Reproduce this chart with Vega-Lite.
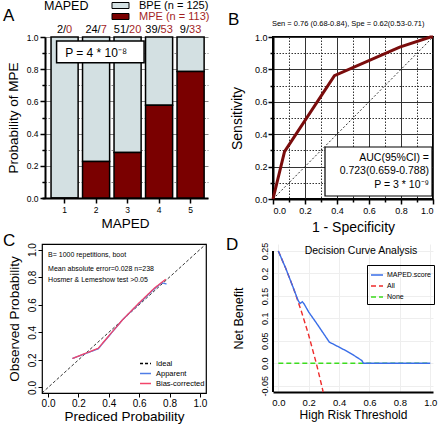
{
  "$schema": "https://vega.github.io/schema/vega-lite/v6.json",
  "padding": {"left": 2, "top": 0, "right": 0, "bottom": 0},
  "bounds": "flush",
  "columns": 2,
  "spacing": {"row": 45, "column": 65},
  "resolve": {
    "scale": {"color": "independent", "strokeDash": "independent"},
    "legend": {"color": "independent", "strokeDash": "independent"}
  },
  "config": {
    "font": "Liberation Sans",
    "view": {"stroke": null},
    "axis": {"labelColor": "black", "titleColor": "black", "domainColor": "black", "tickColor": "black", "titleFontWeight": "normal", "labelFont": "Liberation Sans", "titleFont": "Liberation Sans", "labelOverlap": false, "labelBound": false},
    "legend": {"labelColor": "black", "titleColor": "black", "labelFont": "Liberation Sans", "titleFont": "Liberation Sans"},
    "title": {"fontWeight": "normal", "color": "black", "font": "Liberation Sans"},
    "text": {"font": "Liberation Sans", "color": "black"}
  },
  "datasets": {
    "a_bars": [
      {"score": 1, "group": "BPE (n = 125)", "prob": 1.0},
      {"score": 1, "group": "MPE (n = 113)", "prob": 0.0},
      {"score": 2, "group": "BPE (n = 125)", "prob": 0.774},
      {"score": 2, "group": "MPE (n = 113)", "prob": 0.226},
      {"score": 3, "group": "BPE (n = 125)", "prob": 0.718},
      {"score": 3, "group": "MPE (n = 113)", "prob": 0.282},
      {"score": 4, "group": "BPE (n = 125)", "prob": 0.424},
      {"score": 4, "group": "MPE (n = 113)", "prob": 0.576},
      {"score": 5, "group": "BPE (n = 125)", "prob": 0.214},
      {"score": 5, "group": "MPE (n = 113)", "prob": 0.786}
    ],
    "a_counts": [
      {"score": 1, "nb": "2", "nm": "0"},
      {"score": 2, "nb": "24", "nm": "7"},
      {"score": 3, "nb": "51", "nm": "20"},
      {"score": 4, "nb": "39", "nm": "53"},
      {"score": 5, "nb": "9", "nm": "33"}
    ],
    "roc": [
      {"fpr": 0, "tpr": 0},
      {"fpr": 0.072, "tpr": 0.292},
      {"fpr": 0.384, "tpr": 0.761},
      {"fpr": 0.792, "tpr": 0.938},
      {"fpr": 0.984, "tpr": 1},
      {"fpr": 1, "tpr": 1}
    ],
    "diag": [
      {"fpr": 0, "tpr": 0},
      {"fpr": 1, "tpr": 1}
    ],
    "ideal": [
      {"series": "Ideal", "x": -0.04, "y": -0.04},
      {"series": "Ideal", "x": 1.04, "y": 1.04}
    ],
    "calib": [
      {"series": "Apparent", "x": 0.16, "y": 0.21},
      {"series": "Apparent", "x": 0.33, "y": 0.28},
      {"series": "Apparent", "x": 0.49, "y": 0.49},
      {"series": "Apparent", "x": 0.6, "y": 0.61},
      {"series": "Apparent", "x": 0.7, "y": 0.715},
      {"series": "Apparent", "x": 0.75, "y": 0.76},
      {"series": "Apparent", "x": 0.78, "y": 0.75},
      {"series": "Bias-corrected", "x": 0.16, "y": 0.21},
      {"series": "Bias-corrected", "x": 0.33, "y": 0.284},
      {"series": "Bias-corrected", "x": 0.49, "y": 0.49},
      {"series": "Bias-corrected", "x": 0.6, "y": 0.614},
      {"series": "Bias-corrected", "x": 0.7, "y": 0.72},
      {"series": "Bias-corrected", "x": 0.775, "y": 0.785}
    ],
    "dca": [
      {"series": "None", "t": 0, "nb": 0},
      {"series": "None", "t": 1, "nb": 0},
      {"series": "All", "t": 0, "nb": 0.25},
      {"series": "All", "t": 0.05, "nb": 0.2105},
      {"series": "All", "t": 0.1, "nb": 0.1667},
      {"series": "All", "t": 0.15, "nb": 0.1176},
      {"series": "All", "t": 0.2, "nb": 0.0625},
      {"series": "All", "t": 0.25, "nb": 0},
      {"series": "All", "t": 0.2857, "nb": -0.05},
      {"series": "All", "t": 0.295, "nb": -0.064},
      {"series": "MAPED.score", "t": 0, "nb": 0.25},
      {"series": "MAPED.score", "t": 0.05, "nb": 0.2105},
      {"series": "MAPED.score", "t": 0.1, "nb": 0.1667},
      {"series": "MAPED.score", "t": 0.13, "nb": 0.14},
      {"series": "MAPED.score", "t": 0.143, "nb": 0.133},
      {"series": "MAPED.score", "t": 0.158, "nb": 0.137},
      {"series": "MAPED.score", "t": 0.17, "nb": 0.132},
      {"series": "MAPED.score", "t": 0.2, "nb": 0.114},
      {"series": "MAPED.score", "t": 0.25, "nb": 0.09},
      {"series": "MAPED.score", "t": 0.3, "nb": 0.065},
      {"series": "MAPED.score", "t": 0.336, "nb": 0.047},
      {"series": "MAPED.score", "t": 0.4, "nb": 0.036},
      {"series": "MAPED.score", "t": 0.45, "nb": 0.027},
      {"series": "MAPED.score", "t": 0.5, "nb": 0.017},
      {"series": "MAPED.score", "t": 0.55, "nb": 0.006},
      {"series": "MAPED.score", "t": 0.56, "nb": 0},
      {"series": "MAPED.score", "t": 1, "nb": 0}
    ]
  },
  "concat": [
    {
      "width": 166,
      "height": 161,
      "title": {"text": "A", "anchor": "start", "frame": "group", "fontSize": 17, "dx": -39, "offset": -38, "baseline": "alphabetic"},
      "layer": [
        {
          "data": {"name": "a_bars"},
          "mark": {"type": "bar", "stroke": "black", "strokeWidth": 1.5},
          "encoding": {
            "x": {"field": "score", "type": "ordinal", "title": "MAPED",
              "scale": {"paddingInner": 0.14, "paddingOuter": 0.205, "align": 0.7},
              "axis": {"labelAngle": 0, "labelFontSize": 8.5, "labelPadding": 2, "tickSize": 5, "tickWidth": 1.5, "domainWidth": 2, "titleFontSize": 13.5, "titlePadding": 3}},
            "y": {"field": "prob", "type": "quantitative", "stack": "zero", "title": "Probability of MPE",
              "scale": {"domain": [0, 1], "nice": false},
              "axis": {
                "values": [0, 0.1, 0.2, 0.3, 0.4, 0.5, 0.6, 0.7, 0.8, 0.9, 1],
                "tickCount": 30,
                "labelExpr": "round(datum.value*10) % 2 == 0 ? format(datum.value, '.1f') : ''",
                "labelOverlap": false,
                "tickSize": {"condition": {"test": "round(datum.value*10) % 2 == 0", "value": 5}, "value": 3},
                "tickWidth": 1.5, "domainWidth": 2, "labelFontSize": 8.5, "labelPadding": 2,
                "grid": true, "gridColor": "#888888", "gridWidth": 1,
                "gridDash": {"condition": {"test": "round(datum.value*10) % 2 == 0", "value": []}, "value": [1.5, 1.5]},
                "titleFontSize": 13.5, "titlePadding": 6, "offset": -3}},
            "color": {"field": "group", "type": "nominal",
              "scale": {"domain": ["BPE (n = 125)", "MPE (n = 113)"], "range": ["#d3e0e2", "#7a0000"]},
              "legend": {"orient": "none", "legendX": 2, "legendY": -37, "direction": "vertical", "title": "MAPED", "titleOrient": "left", "titleAnchor": "start", "titleFontSize": 12.5, "titleFontWeight": "normal", "titlePadding": 26, "titleBaseline": "top", "labelFontSize": 11, "labelOffset": 13,
                "labelColor": {"expr": "datum.label == 'MPE (n = 113)' ? '#a31f1f' : 'black'"},
                "symbolType": "M-1.7,-0.6H1.7V0.6H-1.7Z", "symbolSize": 100, "symbolStrokeColor": "black", "symbolStrokeWidth": 1, "symbolOpacity": 1, "rowPadding": -1, "padding": 0}},
            "order": {"field": "group", "sort": "descending"}
          }
        },
        {
          "data": {"values": [{}]},
          "mark": {"type": "rect", "fill": "white", "stroke": "black", "strokeWidth": 1.5, "xOffset": -8, "x2Offset": -15},
          "encoding": {"x": {"datum": 1, "type": "ordinal", "title": "MAPED"}, "x2": {"datum": 4}, "y": {"datum": 0.975, "type": "quantitative", "title": "Probability of MPE"}, "y2": {"datum": 0.84}}
        },
        {
          "data": {"values": [{}]},
          "mark": {"type": "text", "text": "P = 4 * 10⁻⁸", "fontSize": 12, "dx": 0, "baseline": "middle"},
          "encoding": {"x": {"datum": 2, "type": "ordinal", "title": "MAPED"}, "y": {"datum": 0.9, "type": "quantitative", "title": "Probability of MPE"}}
        },
        {
          "data": {"name": "a_counts"},
          "mark": {"type": "text", "fontSize": 11, "align": "right", "baseline": "alphabetic", "dy": -4, "color": "black",
            "text": {"expr": "datum.nb + '/'"},
            "dx": {"expr": "(length(datum.nb)*6.12 + 3.06 - length(datum.nm)*6.12)/2"}},
          "encoding": {"x": {"field": "score", "type": "ordinal", "title": "MAPED"}, "y": {"datum": 1, "type": "quantitative", "title": "Probability of MPE"}}
        },
        {
          "data": {"name": "a_counts"},
          "mark": {"type": "text", "fontSize": 11, "align": "left", "baseline": "alphabetic", "dy": -4, "color": "#a31f1f",
            "text": {"expr": "datum.nm"},
            "dx": {"expr": "(length(datum.nb)*6.12 + 3.06 - length(datum.nm)*6.12)/2"}},
          "encoding": {"x": {"field": "score", "type": "ordinal", "title": "MAPED"}, "y": {"datum": 1, "type": "quantitative", "title": "Probability of MPE"}}
        }
      ]
    },
    {
      "width": 160,
      "height": 162,
      "view": {"stroke": "black", "strokeWidth": 2},
      "title": {"text": "B", "anchor": "start", "frame": "group", "fontSize": 17, "dx": -45, "offset": -22, "baseline": "alphabetic"},
      "layer": [
        {
          "data": {"name": "diag"},
          "mark": {"type": "line", "color": "black", "strokeWidth": 0.8, "strokeDash": [2, 2]},
          "encoding": {
            "x": {"field": "fpr", "type": "quantitative", "title": "1 - Specificity", "scale": {"domain": [0, 1], "nice": false},
              "axis": {
                "values": [0, 0.1, 0.2, 0.3, 0.4, 0.5, 0.6, 0.7, 0.8, 0.9, 1],
                "tickCount": 30,
                "labelExpr": "round(datum.value*10) % 2 == 0 ? format(datum.value, '.1f') : ''",
                "labelOverlap": false,
                "tickSize": {"condition": {"test": "round(datum.value*10) % 2 == 0", "value": 5}, "value": 3},
                "tickWidth": 1.5, "domainWidth": 2, "labelFontSize": 9, "labelPadding": 2,
                "grid": true, "gridColor": "#333333", "gridWidth": 1,
                "gridDash": {"condition": {"test": "round(datum.value*10) % 2 == 0", "value": []}, "value": [1.5, 1.5]},
                "titleFontSize": 14, "titlePadding": 5}},
            "y": {"field": "tpr", "type": "quantitative", "title": "Sensitivity", "scale": {"domain": [0, 1], "nice": false},
              "axis": {
                "values": [0, 0.1, 0.2, 0.3, 0.4, 0.5, 0.6, 0.7, 0.8, 0.9, 1],
                "tickCount": 30,
                "labelExpr": "round(datum.value*10) % 2 == 0 ? format(datum.value, '.1f') : ''",
                "labelOverlap": false,
                "tickSize": {"condition": {"test": "round(datum.value*10) % 2 == 0", "value": 5}, "value": 3},
                "tickWidth": 1.5, "domainWidth": 2, "labelFontSize": 9, "labelPadding": 1,
                "grid": true, "gridColor": "#333333", "gridWidth": 1,
                "gridDash": {"condition": {"test": "round(datum.value*10) % 2 == 0", "value": []}, "value": [1.5, 1.5]},
                "titleFontSize": 14, "titlePadding": 10}}
          }
        },
        {
          "data": {"name": "roc"},
          "mark": {"type": "line", "color": "#7a0c0c", "strokeWidth": 3},
          "encoding": {"x": {"field": "fpr", "type": "quantitative", "title": "1 - Specificity"}, "y": {"field": "tpr", "type": "quantitative", "title": "Sensitivity"}}
        },
        {
          "data": {"values": [{}]},
          "mark": {"type": "rect", "fill": "white", "stroke": "black", "strokeWidth": 1.2},
          "encoding": {"x": {"datum": 0.325, "type": "quantitative", "title": "1 - Specificity"}, "x2": {"datum": 0.994}, "y": {"datum": 0.0185, "type": "quantitative", "title": "Sensitivity"}, "y2": {"datum": 0.321}}
        },
        {
          "data": {"values": [{}]},
          "mark": {"type": "text", "text": "AUC(95%CI) =", "fontSize": 10.5, "align": "right", "baseline": "middle"},
          "encoding": {"x": {"datum": 0.975, "type": "quantitative", "title": "1 - Specificity"}, "y": {"datum": 0.253, "type": "quantitative", "title": "Sensitivity"}}
        },
        {
          "data": {"values": [{}]},
          "mark": {"type": "text", "text": "0.723(0.659-0.788)", "fontSize": 10.5, "align": "right", "baseline": "middle"},
          "encoding": {"x": {"datum": 0.975, "type": "quantitative", "title": "1 - Specificity"}, "y": {"datum": 0.175, "type": "quantitative", "title": "Sensitivity"}}
        },
        {
          "data": {"values": [{}]},
          "mark": {"type": "text", "text": "P = 3 * 10⁻⁹", "fontSize": 10.5, "align": "right", "baseline": "middle"},
          "encoding": {"x": {"datum": 0.975, "type": "quantitative", "title": "1 - Specificity"}, "y": {"datum": 0.088, "type": "quantitative", "title": "Sensitivity"}}
        },
        {
          "data": {"values": [{}]},
          "mark": {"type": "text", "text": "Sen = 0.76 (0.68-0.84), Spe = 0.62(0.53-0.71)", "fontSize": 7.5, "baseline": "middle", "dy": -13},
          "encoding": {"x": {"datum": 0.47, "type": "quantitative", "title": "1 - Specificity"}, "y": {"datum": 1, "type": "quantitative", "title": "Sensitivity"}}
        }
      ]
    },
    {
      "width": 164,
      "height": 149,
      "view": {"stroke": "black", "strokeWidth": 1.2},
      "title": {"text": "C", "anchor": "start", "frame": "group", "fontSize": 17, "dx": -39, "offset": -21, "baseline": "alphabetic"},
      "layer": [
        {
          "data": {"name": "ideal"},
          "mark": {"type": "line", "strokeWidth": 0.8},
          "encoding": {
            "x": {"field": "x", "type": "quantitative", "title": "Prediced Probability", "scale": {"domain": [-0.04, 1.04], "nice": false, "zero": false},
              "axis": {"values": [0, 0.2, 0.4, 0.6, 0.8, 1], "tickCount": 30, "format": ".1f", "labelOverlap": false, "domain": false, "grid": false, "tickSize": 4, "tickWidth": 1, "labelFontSize": 10, "labelPadding": 1, "titleFontSize": 13.5, "titlePadding": 1}},
            "y": {"field": "y", "type": "quantitative", "title": "Observed Probability", "scale": {"domain": [-0.04, 1.04], "nice": false, "zero": false},
              "axis": {"values": [0, 0.2, 0.4, 0.6, 0.8, 1], "tickCount": 30, "format": ".1f", "labelOverlap": false, "domain": false, "grid": false, "tickSize": 4, "tickWidth": 1, "labelAngle": -90, "labelAlign": "center", "labelBaseline": "bottom", "labelFontSize": 10, "labelPadding": 1, "titleFontSize": 13.5, "titlePadding": 6}},
            "color": {"field": "series", "type": "nominal",
              "scale": {"domain": ["Ideal", "Apparent", "Bias-corrected"], "range": ["black", "#4f7de6", "#f2456a"]},
              "legend": {"orient": "none", "legendX": 97, "legendY": 113, "title": null, "symbolType": "stroke", "symbolSize": 120, "symbolStrokeWidth": 1.3, "labelFontSize": 7.5, "labelOffset": 4, "rowPadding": -2}},
            "strokeDash": {"field": "series", "type": "nominal",
              "scale": {"domain": ["Ideal", "Apparent", "Bias-corrected"], "range": [[3, 2], [1, 0], [1, 0]]},
              "legend": {"orient": "none", "legendX": 97, "legendY": 113, "title": null, "symbolType": "stroke", "symbolSize": 120, "symbolStrokeWidth": 1.3, "labelFontSize": 7.5, "labelOffset": 4, "rowPadding": -2}}
          }
        },
        {
          "data": {"name": "calib"},
          "mark": {"type": "line", "strokeWidth": 1.3},
          "encoding": {
            "x": {"field": "x", "type": "quantitative", "title": "Prediced Probability"},
            "y": {"field": "y", "type": "quantitative", "title": "Observed Probability"},
            "color": {"field": "series", "type": "nominal"},
            "strokeDash": {"field": "series", "type": "nominal"}
          }
        },
        {
          "data": {"values": [{}]},
          "mark": {"type": "text", "text": "B= 1000 repetitions, boot", "fontSize": 7, "align": "left", "baseline": "middle"},
          "encoding": {"x": {"datum": 0, "type": "quantitative", "title": "Prediced Probability"}, "y": {"datum": 0.96, "type": "quantitative", "title": "Observed Probability"}}
        },
        {
          "data": {"values": [{}]},
          "mark": {"type": "text", "text": "Mean absolute error=0.028 n=238", "fontSize": 7, "align": "left", "baseline": "middle"},
          "encoding": {"x": {"datum": 0, "type": "quantitative", "title": "Prediced Probability"}, "y": {"datum": 0.861, "type": "quantitative", "title": "Observed Probability"}}
        },
        {
          "data": {"values": [{}]},
          "mark": {"type": "text", "text": "Hosmer & Lemeshow test >0.05", "fontSize": 7, "align": "left", "baseline": "middle"},
          "encoding": {"x": {"datum": 0, "type": "quantitative", "title": "Prediced Probability"}, "y": {"datum": 0.779, "type": "quantitative", "title": "Observed Probability"}}
        }
      ]
    },
    {
      "width": 160,
      "height": 148,
      "title": {"text": "D", "anchor": "start", "frame": "group", "fontSize": 17, "dx": -47, "offset": -25, "baseline": "alphabetic"},
      "layer": [
        {
          "data": {"name": "dca"},
          "mark": {"type": "line", "strokeWidth": 1.4},
          "encoding": {
            "x": {"field": "t", "type": "quantitative", "title": "High Risk Threshold", "scale": {"domain": [-0.035, 1.018], "nice": false, "zero": false},
              "axis": {"values": [0, 0.2, 0.4, 0.6, 0.8, 1], "tickCount": 30, "format": ".1f", "labelOverlap": false, "ticks": false, "domainWidth": 2, "labelFontSize": 9.5, "labelPadding": 5, "grid": true, "gridColor": "#eeeeee", "titleFontSize": 12, "titlePadding": 3}},
            "y": {"field": "nb", "type": "quantitative", "title": "Net Benefit", "scale": {"domain": [-0.064, 0.2656], "nice": false, "zero": false},
              "axis": {"values": [-0.05, 0, 0.05, 0.1, 0.15, 0.2, 0.25], "tickCount": 30,
                "labelExpr": "datum.value < 0 ? '-0.05' : (datum.value == 0 ? '0.0' : toString(round(datum.value*100)/100))",
                "labelOverlap": false,
                "domain": false, "ticks": false, "labelAngle": -90, "labelAlign": "center", "labelBaseline": "bottom", "labelFontSize": 9, "labelPadding": 4, "grid": true, "gridColor": "#eeeeee", "titleFontSize": 12.5, "titlePadding": 15}},
            "color": {"field": "series", "type": "nominal",
              "scale": {"domain": ["MAPED.score", "All", "None"], "range": ["#3a6ee8", "#ee2b2b", "#3ddc1e"]},
              "legend": {"orient": "none", "legendX": 94, "legendY": 21, "title": null, "strokeColor": "black", "padding": 3, "symbolType": "stroke", "symbolSize": 144, "symbolStrokeWidth": 1.6, "labelFontSize": 7, "labelOffset": 3, "rowPadding": -2}},
            "strokeDash": {"field": "series", "type": "nominal",
              "scale": {"domain": ["MAPED.score", "All", "None"], "range": [[1, 0], [5, 3], [5, 3]]},
              "legend": null}
          }
        },
        {
          "data": {"values": [{}]},
          "mark": {"type": "rule", "strokeWidth": 2, "color": "black"},
          "encoding": {"x": {"datum": -0.035, "type": "quantitative", "title": "High Risk Threshold"}, "y": {"datum": -0.064, "type": "quantitative", "title": "Net Benefit"}, "y2": {"datum": 0.25}}
        },
        {
          "data": {"values": [{}]},
          "mark": {"type": "text", "text": "Decision Curve Analysis", "fontSize": 10.5, "baseline": "middle"},
          "encoding": {"x": {"datum": 0.544, "type": "quantitative", "title": "High Risk Threshold"}, "y": {"datum": 0.25, "type": "quantitative", "title": "Net Benefit"}}
        }
      ]
    }
  ]
}
